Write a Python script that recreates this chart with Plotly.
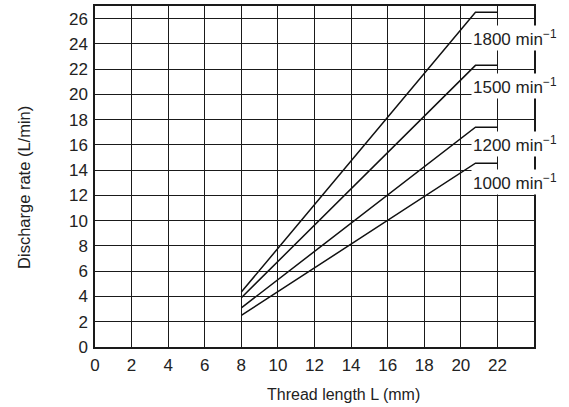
import plotly.graph_objects as go

# Data
speeds = ["1800", "1500", "1200", "1000"]
x_start = [8, 8, 8, 8]
y_start = [4.35, 3.9, 3.1, 2.5]
x_knee = [20.8, 20.8, 20.8, 20.8]
y_knee = [26.5, 22.3, 17.4, 14.55]
x_end = [22, 22, 22, 22]
label_y = [24.5, 20.65, 16.05, 13.05]

x_ticks = list(range(0, 23, 2))
y_ticks = list(range(0, 27, 2))

FONT = "Liberation Sans, Arial, sans-serif"

fig = go.Figure()
for i, s in enumerate(speeds):
    fig.add_trace(go.Scatter(
        x=[x_start[i], x_knee[i], x_end[i]],
        y=[y_start[i], y_knee[i], y_knee[i]],
        mode="lines",
        line=dict(color="#111", width=1.5),
        showlegend=False,
        hoverinfo="skip",
    ))
    fig.add_annotation(
        x=20.55, y=label_y[i], xref="x", yref="y",
        text=f"{s} min<sup>−1</sup>",
        showarrow=False, xanchor="left", yanchor="middle",
        bgcolor="white", borderpad=1,
        font=dict(family=FONT, size=17, color="#222"),
    )

fig.add_annotation(
    x=0.565, y=-0.14, xref="paper", yref="paper",
    text="Thread length L (mm)", showarrow=False,
    xanchor="center", yanchor="middle",
    font=dict(family=FONT, size=16, color="#222"),
)
fig.add_annotation(
    x=-0.162, y=0.469, xref="paper", yref="paper",
    text="Discharge rate (L/min)", showarrow=False, textangle=-90,
    xanchor="center", yanchor="middle",
    font=dict(family=FONT, size=16.5, color="#222"),
)

axis_common = dict(
    showgrid=True, gridcolor="#1a1a1a", gridwidth=1.3,
    showline=True, linecolor="#1a1a1a", linewidth=1.5, mirror=True,
    zeroline=False, ticks="",
    tickfont=dict(family=FONT, size=17, color="#222"),
)

fig.update_layout(
    width=569, height=407,
    margin=dict(l=95, r=35, t=4, b=60),
    paper_bgcolor="white", plot_bgcolor="white",
    xaxis=dict(range=[0, 24], tickvals=x_ticks, ticktext=[str(v) for v in x_ticks],
               ticklabelstandoff=2, **axis_common),
    yaxis=dict(range=[0, 27], tickvals=y_ticks, ticktext=[str(v) for v in y_ticks],
               ticklabelstandoff=2, **axis_common),
)

fig.write_html("out.html", config={"displayModeBar": False},
               post_script="document.body.style.margin='0';document.body.style.overflow='hidden';")
